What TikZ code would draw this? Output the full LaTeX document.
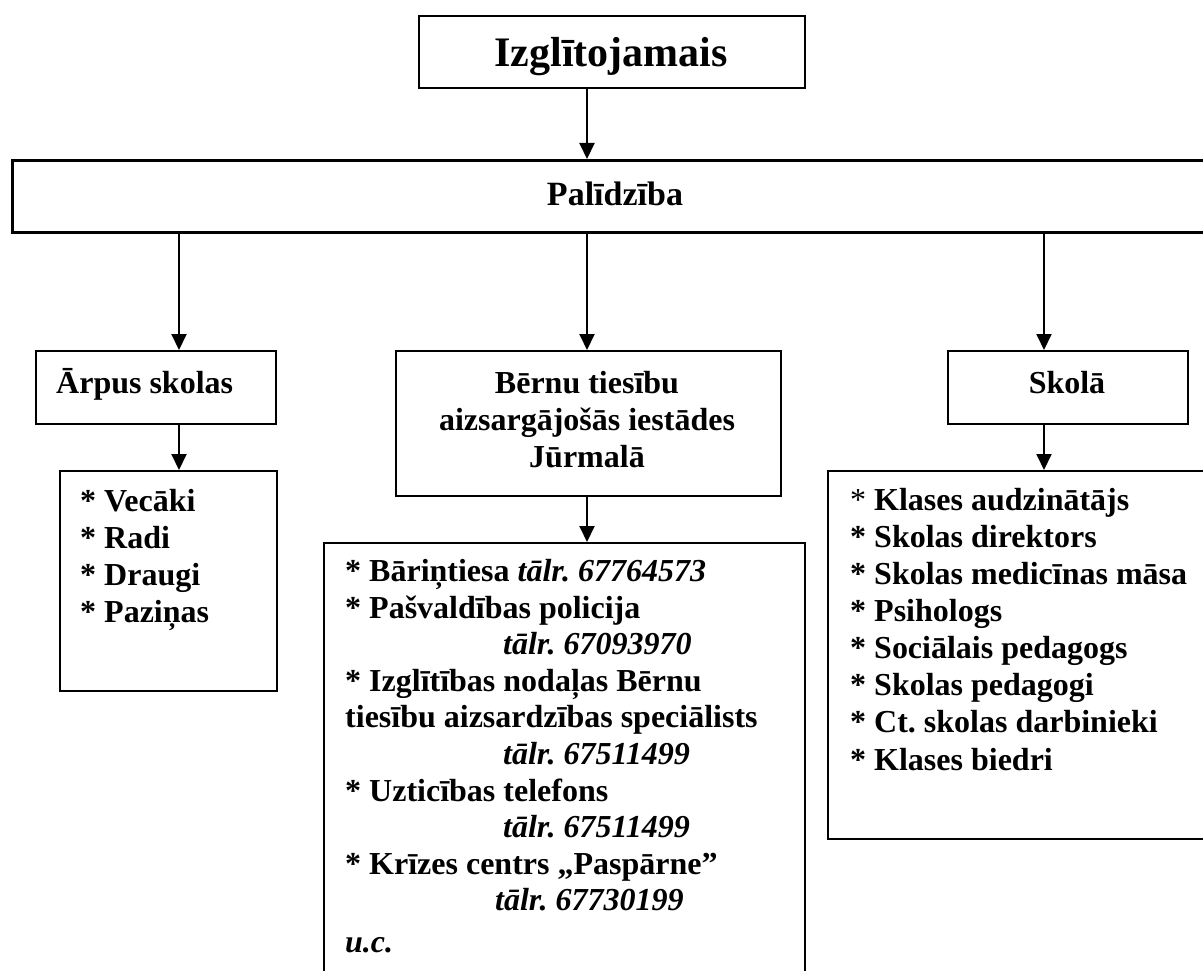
\documentclass[tikz,border=0pt]{standalone}
\usepackage{fontspec}
\setmainfont{Liberation Serif}
\usetikzlibrary{arrows.meta}
\frenchspacing
\begin{document}
\begin{tikzpicture}[x=1pt,y=-1pt,
  box/.style={draw, line width=2pt, inner sep=0pt, anchor=north west},
  arr/.style={line width=2pt, -{Triangle[length=16pt,width=15pt]}},
  txt/.style={inner sep=0pt, font=\fontsize{32}{36.8}\selectfont\bfseries},
  lst/.style={txt, align=left, anchor=base west}]
\useasboundingbox (0,0) rectangle (1203,971);
% column positions of connectors
\coordinate (cL) at (179,0);
\coordinate (cM) at (587,0);
\coordinate (cR) at (1044,0);
% boxes
\node[box, line width=2.4pt, minimum width=386pt, minimum height=72pt] (izgl) at (418,15) {};
\node[box, line width=2.8pt, minimum width=1210pt, minimum height=72pt] (pal) at (11,159) {};
\node[box, minimum width=240pt, minimum height=73pt] (arp) at (35,350) {};
\node[box, minimum width=217pt, minimum height=220pt] (llist) at (59,470) {};
\node[box, minimum width=385pt, minimum height=145pt] (mbox) at (395,350) {};
\node[box, minimum width=481pt, minimum height=450pt] (mlist) at (323,542) {};
\node[box, minimum width=240pt, minimum height=73pt] (skola) at (947,350) {};
\node[box, minimum width=400pt, minimum height=368pt] (rlist) at (827,470) {};
% texts (multi-line nodes: base = last line)
\node[txt, anchor=base, font=\fontsize{42}{48}\selectfont\bfseries] (tizgl) at (611,67) {Izglītojamais};
\node[txt, anchor=base, font=\fontsize{34}{40}\selectfont\bfseries] (tpal) at (615,205) {Palīdzība};
\node[txt, anchor=base west] (tarp) at (56,393) {Ārpus skolas};
\node[txt, anchor=base] (tskola) at (1067,393) {Skolā};
\node[txt, align=center, anchor=base] (tmbox) at (587,467) {Bērnu tiesību\\aizsargājošās iestādes\\Jūrmalā};
\node[lst] (tllist) at (80,622) {* Vecāki\\* Radi\\* Draugi\\* Paziņas};
\node[lst, font=\fontsize{32}{36.6}\selectfont\bfseries] (tmlist) at (345,952) {* Bāriņtiesa \textit{tālr. 67764573}\\
* Pašvaldības policija\\
\hspace*{158pt}\textit{tālr. 67093970}\\
* Izglītības nodaļas Bērnu\\
tiesību aizsardzības speciālists\\
\hspace*{158pt}\textit{tālr. 67511499}\\
* Uzticības telefons\\
\hspace*{158pt}\textit{tālr. 67511499}\\
* Krīzes centrs „Paspārne”\\
\hspace*{150pt}\textit{tālr. 67730199}\\[4.5pt]
\textit{u.c.}};
\node[lst, font=\fontsize{32}{37.1}\selectfont\bfseries] (trlist) at (850,770) {\textmd{*} Klases audzinātājs\\
* Skolas direktors\\
* Skolas medicīnas māsa\\
* Psihologs\\
* Sociālais pedagogs\\
* Skolas pedagogi\\
* Ct. skolas darbinieki\\
* Klases biedri};
% connectors
\draw[arr] (izgl.south -| cM) -- (pal.north -| cM);
\draw[arr] (pal.south -| cL) -- (arp.north -| cL);
\draw[arr] (pal.south -| cM) -- (mbox.north -| cM);
\draw[arr] (pal.south -| cR) -- (skola.north -| cR);
\draw[arr] (arp.south -| cL) -- (llist.north -| cL);
\draw[arr] (mbox.south -| cM) -- (mlist.north -| cM);
\draw[arr] (skola.south -| cR) -- (rlist.north -| cR);
\end{tikzpicture}
\end{document}
